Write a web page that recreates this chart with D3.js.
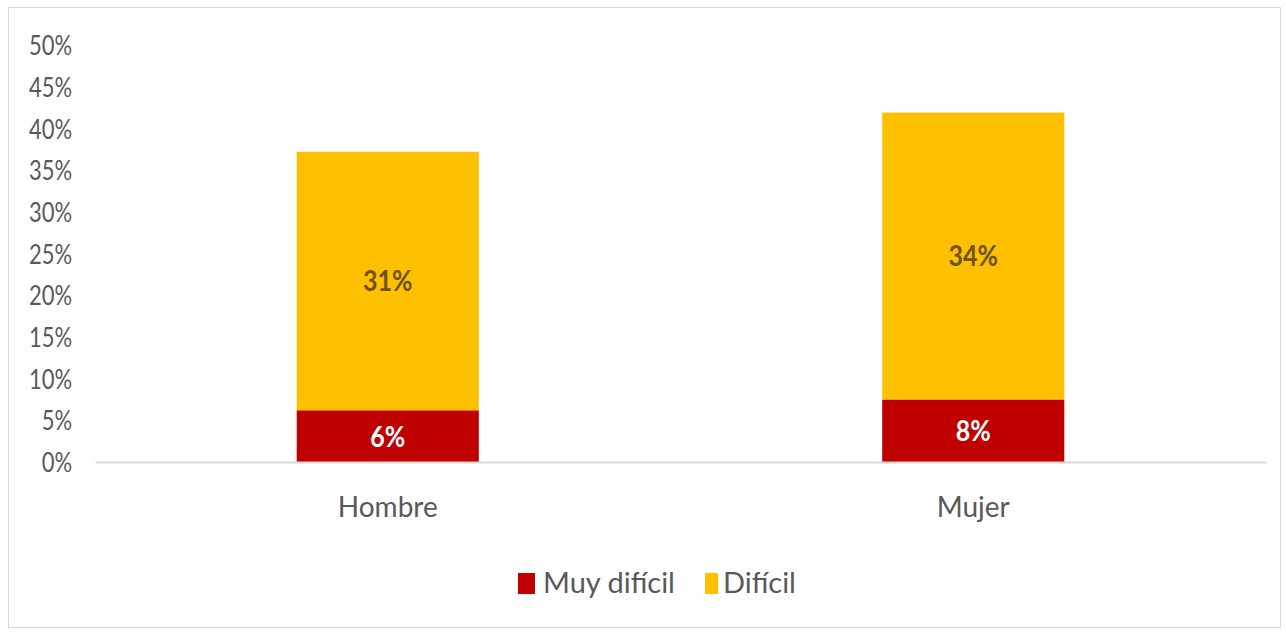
<!DOCTYPE html>
<html>
<head>
<meta charset="utf-8">
<script src="https://cdn.jsdelivr.net/npm/d3@7"></script>
<style>
  body { margin: 0; background: #fff; }
  text { font-family: Lato, "Open Sans", sans-serif; }
</style>
</head>
<body>
<div id="vis"></div>
<script>
// data
const categories = ['Hombre', 'Mujer'];
const seriesNames = ['Muy difícil', 'Difícil'];
const muyDificil = [0.062, 0.075];
const dificil = [0.310, 0.344];
const tickValues = [0, 0.05, 0.10, 0.15, 0.20, 0.25, 0.30, 0.35, 0.40, 0.45, 0.50];
const colors = ['#C00000', '#FFC000'];

const W = 1286, H = 632;
const margin = {top: 45, right: 20, bottom: 170, left: 95};
const width = 1266 - margin.left;
const height = 462 - margin.top;

const root = d3.select('#vis').append('svg')
    .attr('width', W)
    .attr('height', H);

// outer frame of the chart
root.append('rect')
    .attr('x', 8.5).attr('y', 7.5)
    .attr('width', W - 14).attr('height', H - 12)
    .attr('fill', '#fff')
    .attr('stroke', '#d9d9d9');

const svg = root.append('g')
    .attr('transform', `translate(${margin.left},${margin.top})`);

const x = d3.scaleBand()
    .domain(categories)
    .range([0, width])
    .paddingInner(0.689)
    .paddingOuter(0.3445);

const y = d3.scaleLinear()
    .domain([0, 0.5])
    .range([height, 0]);

// stack the two series
const rows = categories.map((c, i) => ({cat: c, 'Muy difícil': muyDificil[i], 'Difícil': dificil[i]}));
const stacked = d3.stack().keys(seriesNames)(rows);

// y axis (labels only), text a bit taller than wide like the original
const yAxis = svg.append('g')
    .call(d3.axisLeft(y).tickValues(tickValues).tickFormat(d3.format('.0%')).tickSize(0).tickPadding(23));
yAxis.select('.domain').remove();
yAxis.selectAll('text')
    .attr('fill', '#595959')
    .attr('dy', '0.36em')
    .attr('transform', 'scale(1,1.22)')
    .style('font-size', '22px');

// bars
svg.selectAll('.series')
    .data(stacked)
    .join('g')
    .attr('class', 'series')
    .attr('fill', (d, i) => colors[i])
    .selectAll('rect')
    .data(d => d)
    .join('rect')
    .attr('x', d => x(d.data.cat))
    .attr('y', d => y(d[1]))
    .attr('width', x.bandwidth())
    .attr('height', d => y(d[0]) - y(d[1]));

// value labels
const fmt = d3.format('.0%');
stacked.forEach((s, si) => {
    svg.selectAll('.lbl' + si)
        .data(s)
        .join('text')
        .attr('transform', d => `translate(${x(d.data.cat) + x.bandwidth() / 2},${(y(d[0]) + y(d[1])) / 2}) scale(1,1.15)`)
        .attr('dy', '0.36em')
        .attr('text-anchor', 'middle')
        .attr('fill', si === 0 ? '#ffffff' : '#6e5312')
        .style('font-size', '25px')
        .style('font-weight', 'bold')
        .text(d => fmt(d[1] - d[0]));
});

// x axis
const xAxis = svg.append('g')
    .attr('transform', `translate(0,${height})`)
    .call(d3.axisBottom(x).tickSize(0).tickPadding(35));
xAxis.select('.domain').attr('stroke', '#d9d9d9').attr('stroke-width', 2);
xAxis.selectAll('text')
    .attr('fill', '#595959')
    .style('font-size', '28px');

// legend
const legend = root.append('g').attr('transform', 'translate(518,583)');
const legX = [0, 187];
seriesNames.forEach((name, i) => {
    const g = legend.append('g').attr('transform', `translate(${legX[i]},0)`);
    g.append('rect')
        .attr('x', 0).attr('y', -10)
        .attr('width', i === 0 ? 17 : 13).attr('height', 21)
        .attr('fill', colors[i]);
    g.append('text')
        .attr('x', i === 0 ? 25 : 18)
        .attr('y', 0)
        .attr('dy', '0.36em')
        .attr('fill', '#595959')
        .style('font-size', '29px')
        .text(name);
});
</script>
</body>
</html>
